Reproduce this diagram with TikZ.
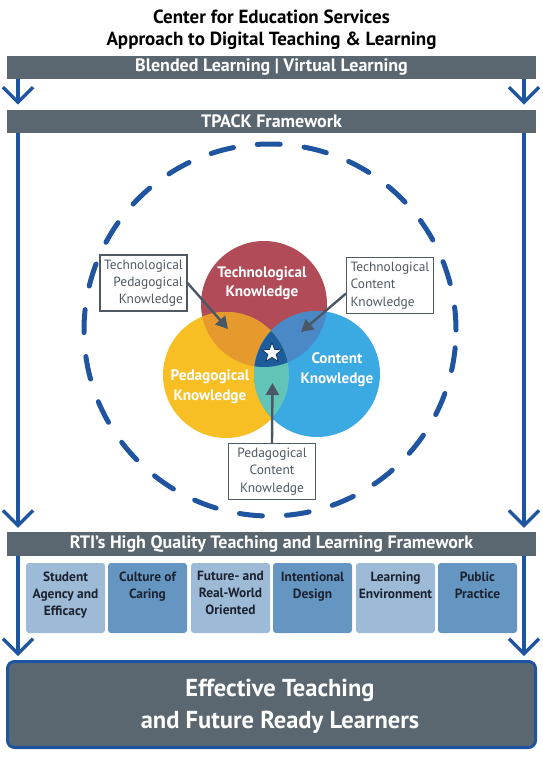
\documentclass[tikz,border=0pt]{standalone}
\usepackage{fontspec}
\setmainfont{PT Sans}
\usetikzlibrary{arrows.meta,shapes.geometric}
\definecolor{bargray}{HTML}{5B6770}
\definecolor{lineblue}{HTML}{1F55A0}
\definecolor{tkred}{HTML}{B14B57}
\definecolor{pkyellow}{HTML}{F8BF24}
\definecolor{ckblue}{HTML}{3BA9E2}
\definecolor{tpkorange}{HTML}{E69A2E}
\definecolor{tckblue}{HTML}{4A88C6}
\definecolor{pckteal}{HTML}{62C4B7}
\definecolor{tpackdark}{HTML}{1E5D9C}
\definecolor{labelgray}{HTML}{4E5964}
\definecolor{arrowgray}{HTML}{4A5866}
\definecolor{boxlight}{HTML}{9DBAD6}
\definecolor{boxdark}{HTML}{6596C1}
\definecolor{boxtext}{HTML}{1C2230}
\tikzset{
  bar/.style={fill=bargray, text=white, font=\bfseries\fontsize{18}{20}\selectfont,
    minimum width=529pt, inner sep=0pt},
  flow/.style={draw=lineblue, line width=3.3pt, -{Straight Barb[length=15pt,width=30pt]}},
  ring/.style={circle, draw=lineblue, line width=5pt, line cap=round,
    dash pattern=on 23pt off 24pt, minimum size=372pt, inner sep=0pt},
  venntext/.style={text=white, font=\bfseries\fontsize{15.2}{19.5}\selectfont, align=center},
  kbox/.style={draw=labelgray, line width=1.1pt, fill=white, text=labelgray,
    font=\fontsize{13.4}{17.3}\selectfont, minimum width=87pt, minimum height=56pt, inner sep=2.5pt},
  karrow/.style={draw=arrowgray, line width=2.4pt, -{Triangle[length=12pt,width=13pt]}},
  hqbox/.style={rounded corners=3pt, minimum width=79pt, minimum height=70pt, inner sep=0pt},
  hqtext/.style={text=boxtext, font=\bfseries\fontsize{13.4}{17}\selectfont, align=center, anchor=north, inner sep=0pt},
  finalbox/.style={fill=bargray, draw=lineblue, line width=3pt, rounded corners=7pt,
    minimum width=528pt, minimum height=86pt, inner sep=0pt},
}
\begin{document}
\begin{tikzpicture}[x=1pt,y=-1pt]
\useasboundingbox (0,0) rectangle (543,758);
% title
\node[font=\bfseries\fontsize{19}{22}\selectfont, align=center, text=black] (title) at (271.5,29.5) {Center for Education Services\\Approach to Digital Teaching \& Learning};
% bars
\node[bar, minimum height=23.5pt] (b1) at (271.5,67.5) {Blended Learning | Virtual Learning};
\node[bar, minimum height=23.5pt] (b2) at (271.5,121.5) {TPACK Framework};
\node[bar, minimum height=24pt] (b3) at (271.5,544) {RTI’s High Quality Teaching and Learning Framework};
\node[finalbox] (fin) at (271.5,704.5) {};
\node[text=white, font=\bfseries\fontsize{24.5}{32}\selectfont, align=center] (fintext) at (280,706) {Effective Teaching\\and Future Ready Learners};
% side coordinates
\coordinate (L) at (18,0);
\coordinate (R) at (524,0);
\draw[flow, shorten >=5pt] (b1.south -| L) -- (b2.north -| L);
\draw[flow, shorten >=5pt] (b1.south -| R) -- (b2.north -| R);
\draw[flow, shorten >=4pt] (b2.south -| L) -- (b3.north -| L);
\draw[flow, shorten >=4pt] (b2.south -| R) -- (b3.north -| R);
\draw[flow, shorten >=4pt] (b3.south -| L) -- (fin.north -| L);
\draw[flow, shorten >=4pt] (b3.south -| R) -- (fin.north -| R);
% dashed ring
\node[ring] (ring) at (270,330) {};
% venn
\coordinate (ct) at (264,304);
\coordinate (cp) at (226,375);
\coordinate (cc) at (317,374);
\fill[tkred] (ct) circle (63pt);
\fill[pkyellow] (cp) circle (63pt);
\fill[ckblue] (cc) circle (63pt);
\begin{scope}\clip (ct) circle (63pt); \fill[tpkorange] (cp) circle (63pt); \end{scope}
\begin{scope}\clip (ct) circle (63pt); \fill[tckblue] (cc) circle (63pt); \end{scope}
\begin{scope}\clip (cp) circle (63pt); \fill[pckteal] (cc) circle (63pt); \end{scope}
\begin{scope}\clip (ct) circle (63pt); \clip (cp) circle (63pt); \fill[tpackdark] (cc) circle (63pt); \end{scope}
\node[venntext] (tk) at (262,283) {Technological\\Knowledge};
\node[venntext] (pk) at (210,386.5) {Pedagogical\\Knowledge};
\node[venntext] (ck) at (337,369.5) {Content\\Knowledge};
\node[star, star points=5, star point ratio=2.4, fill=white, draw=tpackdark!60!black, line width=0.8pt, minimum size=21pt, inner sep=0pt] (star) at (272,353) {};
% knowledge labels
\node[kbox, align=right] (tpk) at (143.5,283) {Technological\\Pedagogical\\Knowledge};
\node[kbox, align=left] (tck) at (390,285.5) {Technological\\Content\\Knowledge};
\node[kbox, align=center] (pck) at (272,471.5) {Pedagogical\\Content\\Knowledge};
\coordinate (tpkTip) at (228,329);
\coordinate (tckTip) at (301,332);
\coordinate (pckTip) at (272.5,383);
\draw[karrow] (tpk.east) -- (tpkTip);
\draw[karrow] ([yshift=-8pt]tck.west) -- (tckTip);
\draw[karrow] (pck.north) -- (pckTip);
% HQ boxes
\node[hqbox, fill=boxlight] (h1) at (65.5,598) {};
\node[hqbox, fill=boxdark] (h2) at (147.5,598) {};
\node[hqbox, fill=boxlight] (h3) at (230.5,598) {};
\node[hqbox, fill=boxdark] (h4) at (312.5,598) {};
\node[hqbox, fill=boxlight] (h5) at (395.5,598) {};
\node[hqbox, fill=boxdark] (h6) at (477.5,598) {};
\node[hqtext] (t1) at ([yshift=-8.5pt]h1.north) {Student\\Agency and\\Efficacy};
\node[hqtext] (t2) at ([yshift=-8.5pt]h2.north) {Culture of\\Caring};
\node[hqtext] (t3) at ([yshift=-8.5pt]h3.north) {Future- and\\Real-World\\Oriented};
\node[hqtext] (t4) at ([yshift=-8.5pt]h4.north) {Intentional\\Design};
\node[hqtext] (t5) at ([yshift=-8.5pt]h5.north) {Learning\\Environment};
\node[hqtext] (t6) at ([yshift=-8.5pt]h6.north) {Public\\Practice};
\end{tikzpicture}
\end{document}
